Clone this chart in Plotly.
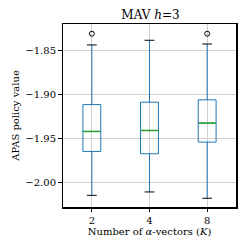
import plotly.graph_objects as go

categories = ["2", "4", "8"]
positions = [1, 2, 3]
q1 = [-1.9647, -1.9673, -1.9541]
median = [-1.9421, -1.9410, -1.9326]
q3 = [-1.9117, -1.9090, -1.9063]
lower = [-2.0143, -2.0105, -2.0176]
upper = [-1.8443, -1.8390, -1.8432]
outlier_x = [1, 3]
outlier_y = [-1.8316, -1.8316]

FONT = "DejaVu Serif"
fig = go.Figure()
fig.add_trace(go.Box(
    x=positions, q1=q1, median=median, q3=q3,
    lowerfence=lower, upperfence=upper,
    width=0.31, whiskerwidth=0,
    line=dict(color="#1f77b4", width=1),
    fillcolor="rgba(0,0,0,0)", boxpoints=False, showlegend=False,
    hoverinfo="skip",
))

def hsegs(xs, ys, half):
    X, Y = [], []
    for x, y in zip(xs, ys):
        X += [x - half, x + half, None]
        Y += [y, y, None]
    return X, Y

cx, cy = hsegs(positions + positions, lower + upper, 0.085)
fig.add_trace(go.Scatter(x=cx, y=cy, mode="lines", line=dict(color="black", width=1),
                         showlegend=False, hoverinfo="skip"))
mx, my = hsegs(positions, median, 0.152)
fig.add_trace(go.Scatter(x=mx, y=my, mode="lines", line=dict(color="#2ca02c", width=1.5),
                         showlegend=False, hoverinfo="skip"))
fig.add_trace(go.Scatter(x=outlier_x, y=outlier_y, mode="markers",
                         marker=dict(symbol="circle-open", color="black", size=5, line=dict(width=1)),
                         showlegend=False, hoverinfo="skip"))

tf = dict(family=FONT, size=10, color="black")
fig.update_layout(
    width=249, height=249,
    margin=dict(l=63, r=11, t=24, b=42),
    paper_bgcolor="white", plot_bgcolor="white",
    font=tf,
    title=dict(text="MAV <i>h</i>=3", x=(63 + 238) / 2 / 249, xanchor="center",
               y=1 - 15 / 249, yanchor="middle", font=dict(size=12, family=FONT, color="black")),
)
fig.update_xaxes(
    range=[0.5, 3.5], tickvals=positions, ticktext=categories, tickfont=tf,
    showgrid=True, gridcolor="#d0d0d0", gridwidth=1,
    showline=True, mirror=True, linecolor="black", linewidth=1.5,
    ticks="outside", ticklen=3.5, tickcolor="black",
    title=dict(text="Number of <i>α</i>-vectors (<i>K</i>)", standoff=2, font=tf),
    zeroline=False,
)
fig.update_yaxes(
    range=[-2.0275, -1.8206], tickvals=[-2.0, -1.95, -1.9, -1.85],
    ticktext=["−2.00", "−1.95", "−1.90", "−1.85"], tickfont=tf,
    showgrid=True, gridcolor="#d0d0d0", gridwidth=1,
    showline=True, mirror=True, linecolor="black", linewidth=1.5,
    ticks="outside", ticklen=3.5, tickcolor="black",
    title=dict(text="APAS policy value", standoff=4, font=tf),
    zeroline=False,
)
fig.write_html("out.html", config={"displayModeBar": False, "staticPlot": True},
               post_script="document.body.style.margin='0px';document.body.style.overflow='hidden';")
